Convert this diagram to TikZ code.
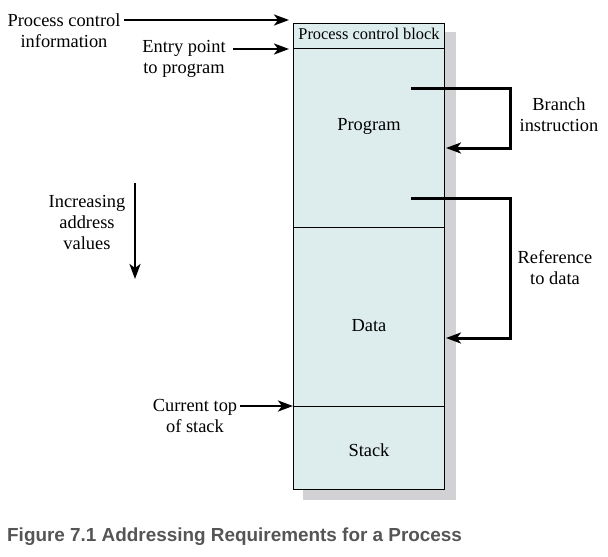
\documentclass[tikz,border=0pt]{standalone}
\usepackage{fontspec}
\setmainfont{Liberation Serif}
\newfontfamily\capfont{Liberation Sans}
\usetikzlibrary{arrows.meta}
\definecolor{boxfill}{HTML}{DDEDEE}
\definecolor{shadowgray}{HTML}{D2D2D4}
\definecolor{capgray}{HTML}{555555}
\tikzset{
  region/.style={draw=black, line width=0.9pt, fill=boxfill, minimum width=151pt, inner sep=0pt, anchor=north west},
  lbl/.style={font=\rmfamily\fontsize{18.4}{21}\selectfont, align=center, inner sep=0pt},
  ptr/.style={line width=2.6pt, -{Stealth[length=15pt,width=11pt,inset=4pt]}},
  brk/.style={line width=3pt, -{Stealth[length=15pt,width=11pt,inset=4pt]}}
}
\begin{document}
\begin{tikzpicture}[x=1pt,y=-1pt]
\useasboundingbox (0,0) rectangle (608,557);
% shadow
\fill[shadowgray] (303,32) rectangle (456,500);
% regions
\node[region, minimum height=25pt] (pcb) at (293,23) {};
\node[region, minimum height=179pt] (prog) at (293,48) {};
\node[region, minimum height=179pt] (data) at (293,227) {};
\node[region, minimum height=83pt] (stack) at (293,406) {};
% region texts
\node[lbl, font=\rmfamily\fontsize{16.4}{20}\selectfont] (pcbt) at (369,34) {Process control block};
\node[lbl] (progt) at (369,126) {Program};
\node[lbl] (datat) at (369,326) {Data};
\node[lbl] (stackt) at (369,450) {Stack};
% left labels
\node[lbl] (pci) at (64,31) {Process control\\information};
\node[lbl] (entry) at (184,59) {Entry point\\to program};
\node[lbl] (incr) at (87,222) {Increasing\\address\\values};
\node[lbl] (cur) at (195,416) {Current top\\of stack};
% right labels
\node[lbl] (branch) at (559,115) {Branch\\instruction};
\node[lbl] (ref) at (555,268) {Reference\\to data};
% arrow coordinates
\coordinate (pciA) at (124,20);
\coordinate (pciB) at (289,20);
\coordinate (entA) at (233,49);
\coordinate (entB) at (289,49);
\coordinate (curA) at (240,406);
\coordinate (incA) at (135,183);
\coordinate (incB) at (135,279);
\coordinate (b1) at (411,88);
\coordinate (b2) at (510,148);
\coordinate (b3) at (446,148);
\coordinate (r1) at (411,198);
\coordinate (r2) at (510,338);
\coordinate (r3) at (446,338);
% arrows
\draw[ptr] (pciA) -- (pciB);
\draw[ptr] (entA) -- (entB);
\draw[ptr] (curA) -- (stack.north west);
\draw[ptr] (incA) -- (incB);
\draw[brk] (b1) -| (b2) -- (b3);
\draw[brk] (r1) -| (r2) -- (r3);
% caption
\node[anchor=base west, inner sep=0pt, text=capgray, font=\capfont\bfseries\fontsize{18.9}{22}\selectfont] (cap) at (7,541) {Figure 7.1 Addressing Requirements for a Process};
\end{tikzpicture}
\end{document}
